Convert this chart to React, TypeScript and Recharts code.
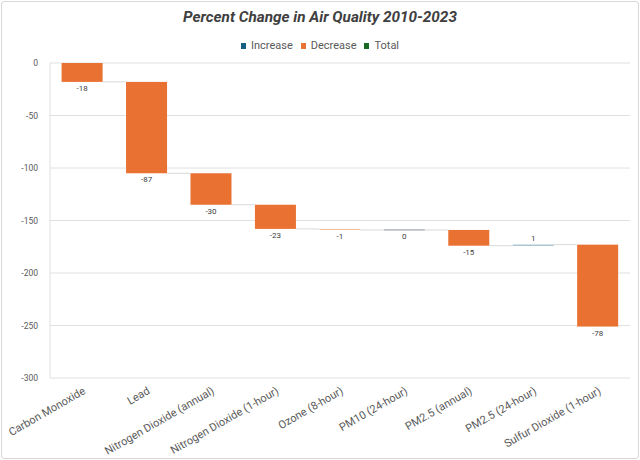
import { BarChart, Bar, XAxis, YAxis, CartesianGrid } from 'recharts';

const categories = [
  'Carbon Monoxide',
  'Lead',
  'Nitrogen Dioxide (annual)',
  'Nitrogen Dioxide (1-hour)',
  'Ozone (8-hour)',
  'PM10 (24-hour)',
  'PM2.5 (annual)',
  'PM2.5 (24-hour)',
  'Sulfur Dioxide (1-hour)',
];
const changes = [-18, -87, -30, -23, -1, 0, -15, 1, -78];
const yTicks = [0, -50, -100, -150, -200, -250, -300];
const legendItems = ['Increase', 'Decrease', 'Total'];

const colors = {
  Increase: '#156082',
  Decrease: '#E97132',
  Total: '#196B24',
};

// waterfall: each bar runs from the running total to the new total
let running = 0;
const data = categories.map((name, i) => {
  const start = running;
  running += changes[i];
  return { name, change: changes[i], range: [start, running] };
});

const GAP = 0.18;

function WaterfallBar(props) {
  const { x, y, width, height, payload, index } = props;
  const top = Math.min(y, y + height);
  const h = Math.abs(height);
  const change = payload.change;
  const color = change < 0 ? colors.Decrease : colors.Increase;
  const band = width / (1 - 2 * GAP);
  const last = index === data.length - 1;
  return (
    <g>
      {!last && (
        <line x1={x + width} x2={x + width + band * 2 * GAP} y1={y} y2={y} stroke="#d9d9d9" strokeWidth={1} />
      )}
      {change === 0 ? (
        <line x1={x} x2={x + width} y1={y} y2={y} stroke="#8c939a" strokeWidth={1} />
      ) : (
        <rect x={x} y={top} width={width} height={Math.max(h, 1)} fill={color} fillOpacity={h < 2 ? 0.5 : 1} />
      )}
      <text
        x={x + width / 2}
        y={change > 0 ? top - 4 : top + h + 9}
        textAnchor="middle"
        fontSize={8}
        fill="#404040"
      >
        {change}
      </text>
    </g>
  );
}

function CategoryTick(props) {
  const { x, y, payload } = props;
  return (
    <g transform={`translate(${x + 4},${y + 15}) rotate(-30)`}>
      <text x={0} y={0} textAnchor="end" fontSize={11} fill="#595959">
        {payload.value}
      </text>
    </g>
  );
}

export default function App() {
  return (
    <div
      style={{
        position: 'absolute',
        left: 0,
        top: 0,
        width: 640,
        height: 460,
        background: '#fff',
        fontFamily: 'Roboto, sans-serif',
      }}
    >
      <div
        style={{
          position: 'absolute',
          left: 1,
          top: 1,
          width: 636,
          height: 456,
          border: '1px solid #d9d9d9',
          borderRadius: 3,
        }}
      />
      <div
        style={{
          position: 'absolute',
          top: 8,
          width: 640,
          textAlign: 'center',
          fontSize: 15.3,
          fontWeight: 'bold',
          fontStyle: 'italic',
          color: '#404040',
        }}
      >
        Percent Change in Air Quality 2010-2023
      </div>
      <div
        style={{
          position: 'absolute',
          top: 39,
          width: 640,
          display: 'flex',
          justifyContent: 'center',
          gap: 8,
          fontSize: 11,
          color: '#595959',
        }}
      >
        {legendItems.map((item) => (
          <span key={item} style={{ display: 'flex', alignItems: 'center' }}>
            <span style={{ width: 5, height: 6, background: colors[item], marginRight: 5 }} />
            {item}
          </span>
        ))}
      </div>
      <BarChart
        width={640}
        height={460}
        data={data}
        margin={{ top: 63, right: 10, left: 0, bottom: 0 }}
        barCategoryGap={`${GAP * 100}%`}
        style={{ position: 'absolute', left: 0, top: 0 }}
      >
        <CartesianGrid vertical={false} stroke="#e0e0e0" />
        <XAxis
          dataKey="name"
          interval={0}
          axisLine={false}
          tickLine={false}
          tickSize={0}
          tickMargin={0}
          height={82}
          tick={<CategoryTick />}
        />
        <YAxis
          width={50}
          domain={[-300, 0]}
          ticks={yTicks}
          axisLine={{ stroke: '#e0e0e0' }}
          tickLine={false}
          tick={{ fontSize: 8.5, fill: '#595959' }}
          tickMargin={6}
        />
        <Bar dataKey="range" shape={<WaterfallBar />} isAnimationActive={false} />
      </BarChart>
    </div>
  );
}
